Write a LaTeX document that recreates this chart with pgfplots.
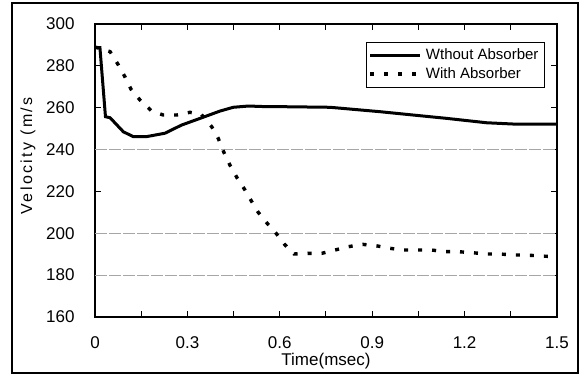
\documentclass[border=0pt]{standalone}
\usepackage{fontspec}
\setmainfont{Liberation Sans}
\usepackage{pgfplots}
\pgfplotsset{compat=1.18}
\begin{document}
\begin{tikzpicture}
\path (0,0) rectangle (292.5pt,189pt);
\draw[line width=0.8pt] (6pt,2.5pt) rectangle (289pt,187.5pt);
\begin{axis}[
  at={(47.5pt,30.5pt)}, anchor=south west,
  scale only axis, width=231pt, height=146.5pt,
  xmin=0, xmax=1.5, ymin=160, ymax=300,
  xtick={0,0.3,0.6,0.9,1.2,1.5},
  xticklabels={0,0.3,0.6,0.9,1.2,1.5},
  minor xtick={0.15,0.45,0.75,1.05,1.35},
  ytick={160,180,...,300},
  tick align=inside, major tick length=3pt, minor tick length=3pt,
  tick style={black, line width=0.5pt},
  axis line style={line width=0.7pt},
  /pgf/number format/assume math mode=true,
  tick label style={font=\fontsize{8.5}{10}\selectfont},
  xticklabel style={anchor=center, yshift=-13pt},
  yticklabel style={anchor=east, inner sep=0pt, xshift=-10pt},
  extra y ticks={180,200,240},
  extra y tick labels={},
  extra y tick style={grid=major, major tick length=0pt},
  grid style={gray!70, line width=0.4pt, dash pattern=on 6pt off 1pt},
  xlabel={Time(msec)},
  xlabel style={at={(axis description cs:0.5,-0.15)}, anchor=center, font=\fontsize{8.5}{10}\selectfont},
  ylabel={\addfontfeature{LetterSpace=15}Velocity (m/s},
  ylabel style={at={(axis description cs:-0.145,0.55)}, anchor=center, font=\fontsize{8}{10}\selectfont},
  legend style={at={(axis description cs:0.974,0.939)}, anchor=north east,
    draw=black, line width=0.5pt, font=\fontsize{7.5}{9}\selectfont,
    inner sep=1pt, row sep=-1.5pt, cells={anchor=west}},
  legend image code/.code={\draw[#1] (0pt,0pt) -- (25pt,0pt);},
]
\addplot[black, line width=1.5pt] coordinates {
(0,288.7) (0.016,288.7) (0.034,255.7) (0.049,255.2) (0.092,248.5) (0.124,246.2)
(0.168,246.2) (0.227,247.8) (0.281,251.7) (0.341,254.9) (0.406,258.4) (0.449,260.2)
(0.498,260.8) (0.557,260.5) (0.60,260.5) (0.763,260.2) (0.925,258.1) (1.033,256.5)
(1.142,254.9) (1.272,252.8) (1.358,252.2) (1.5,252.2)
};
\addlegendentry{Wthout Absorber}
\addplot[black, line width=1.7pt, dash pattern=on 2pt off 5pt] coordinates {
(0,289) (0.049,286.8) (0.076,280.4) (0.097,274.8) (0.117,268.8) (0.146,263.7)
(0.184,258.4) (0.222,256.5) (0.265,256.5) (0.308,257.8) (0.345,256.8) (0.379,250.9)
(0.40,245.4) (0.419,238.5) (0.438,232.6) (0.462,226.3) (0.487,220.7) (0.509,215.1)
(0.530,210.0) (0.557,205.1) (0.588,200) (0.614,194.9) (0.646,190.1) (0.693,190.4)
(0.736,190.4) (0.779,192) (0.823,193.6) (0.869,194.7) (0.914,194) (0.958,192.8)
(1.001,192) (1.05,192) (1.093,192) (1.136,191.2) (1.18,191.2) (1.226,190.7)
(1.272,190.1) (1.315,190.1) (1.358,189.6) (1.401,189.6) (1.45,189.1) (1.5,188.8)
};
\addlegendentry{With Absorber}
\end{axis}
\end{tikzpicture}
\end{document}
